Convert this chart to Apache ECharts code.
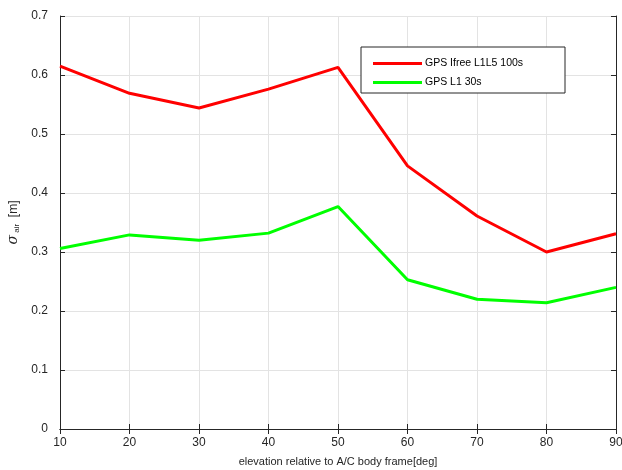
<!DOCTYPE html>
<html>
<head>
<meta charset="utf-8">
<script src="https://cdn.jsdelivr.net/npm/echarts@6/dist/echarts.min.js"></script>
<style>
  html, body { margin: 0; padding: 0; background: #fff; }
  #chart { width: 622px; height: 470px; }
</style>
</head>
<body>
<div id="chart"></div>
<script>
const elevation = [10, 20, 30, 40, 50, 60, 70, 80, 90]
const ifreeL1L5 = [0.615, 0.569, 0.544, 0.576, 0.613, 0.446, 0.361, 0.300, 0.331]
const gpsL1 = [0.306, 0.329, 0.320, 0.332, 0.377, 0.253, 0.220, 0.214, 0.240]
const seriesNames = ['GPS Ifree L1L5 100s', 'GPS L1 30s']

const font = 'Liberation Sans, Arial, sans-serif'
const axisColor = '#262626'

const chart = echarts.init(document.getElementById('chart'))

const pairs = ys => elevation.map((x, i) => [x, ys[i]])

const frameAxis = {
  axisLine: { show: true, lineStyle: { color: axisColor, width: 1 } },
  axisTick: { show: true, inside: true, length: 5, lineStyle: { color: axisColor } },
  axisLabel: { show: false },
  splitLine: { show: false }
}

chart.setOption({
  backgroundColor: '#fff',
  animation: false,
  textStyle: { fontFamily: font },
  grid: { left: 60, top: 16, right: 6, bottom: 41, outerBoundsMode: 'none', containLabel: false },
  legend: {
    orient: 'vertical',
    left: 368,
    top: 53,
    itemWidth: 49,
    itemHeight: 3,
    itemGap: 8,
    icon: 'rect',
    textStyle: { fontSize: 10.5, color: '#000', fontFamily: font, padding: [0, 0, 0, -2] },
    data: seriesNames
  },
  graphic: [{
    type: 'rect',
    shape: { x: 361, y: 47, width: 204, height: 46 },
    style: { fill: '#fff', stroke: '#262626', lineWidth: 1 },
    z: 3
  }],
  xAxis: [
    {
      type: 'value',
      min: 10,
      max: 90,
      interval: 10,
      name: 'elevation relative to A/C body frame[deg]',
      nameLocation: 'middle',
      nameGap: 27,
      nameTextStyle: { fontSize: 11, color: axisColor },
      axisLine: { show: true, onZero: false, lineStyle: { color: axisColor } },
      axisTick: { show: true, inside: true, length: 5, lineStyle: { color: axisColor } },
      axisLabel: { fontSize: 12, color: axisColor, margin: 8 },
      splitLine: { show: true, lineStyle: { color: '#e3e3e3', width: 1 } }
    },
    { type: 'value', position: 'top', min: 10, max: 90, interval: 10, ...frameAxis }
  ],
  yAxis: [
    {
      type: 'value',
      min: 0,
      max: 0.7,
      interval: 0.1,
      name: '{g|σ}{sub| air}{s|  [m]}',
      nameLocation: 'middle',
      nameGap: 35,
      nameRotate: 90,
      nameTextStyle: {
        color: axisColor,
        rich: {
          g: { fontSize: 14, fontStyle: 'italic', color: axisColor, fontFamily: 'DejaVu Serif, serif' },
          s: { fontSize: 12, color: axisColor, fontFamily: font },
          sub: { fontSize: 8, color: axisColor, fontFamily: font, verticalAlign: 'bottom', padding: [6, 0, 0, 0] }
        }
      },
      axisLine: { show: true, lineStyle: { color: axisColor } },
      axisTick: { show: true, inside: true, length: 5, lineStyle: { color: axisColor } },
      axisLabel: { fontSize: 12, color: axisColor, margin: 12 },
      splitLine: { show: true, lineStyle: { color: '#e3e3e3', width: 1 } }
    },
    { type: 'value', position: 'right', min: 0, max: 0.7, interval: 0.1, ...frameAxis }
  ],
  series: [
    {
      name: seriesNames[0],
      type: 'line',
      data: pairs(ifreeL1L5),
      showSymbol: false,
      itemStyle: { color: '#ff0000' },
      lineStyle: { color: '#ff0000', width: 3 },
      z: 4
    },
    {
      name: seriesNames[1],
      type: 'line',
      data: pairs(gpsL1),
      showSymbol: false,
      itemStyle: { color: '#00ff00' },
      lineStyle: { color: '#00ff00', width: 3 },
      z: 4
    }
  ]
})
</script>
</body>
</html>
